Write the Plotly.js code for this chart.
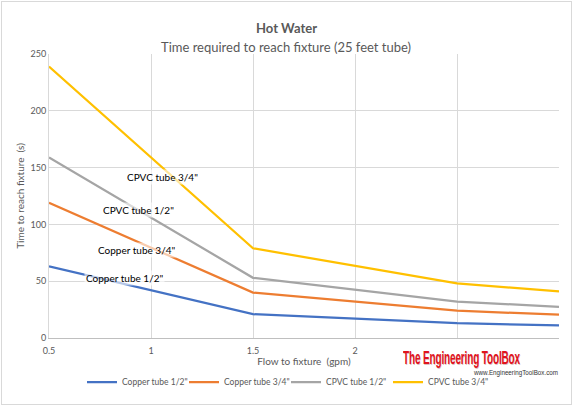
<!DOCTYPE html>
<html>
<head>
<meta charset="utf-8">
<script src="https://cdn.plot.ly/plotly-3.0.1.min.js"></script>
<style>
  html, body { margin: 0; padding: 0; background: #fff; }
  #wrap { position: relative; width: 573px; height: 406px; overflow: hidden; }
  #chart { width: 573px; height: 406px; }
  #frame { position: absolute; left: 1px; top: 1px; width: 569px; height: 402px;
           border: 1px solid #d9d9d9; pointer-events: none; }
  #logo { position: absolute; left: 394px; top: 342px; width: 172px; height: 34px; background: #fff; }
  #logo .brand, #logo .url { position: absolute; white-space: nowrap; transform-origin: 0 0; }
  #logo .brand { font-family: "Liberation Sans", "DejaVu Sans", sans-serif; font-weight: bold;
                 font-size: 19px; line-height: 19px; color: #e0141e; letter-spacing: -0.3px;
                 text-shadow: 1px 1px 0 rgba(120,0,0,0.25); }
  #logo .url { font-family: "Liberation Sans", sans-serif; font-size: 7px; line-height: 7px; color: #333; }
</style>
</head>
<body>
<div id="wrap">
  <div id="chart"></div>
  <div id="logo"><span class="brand">The Engineering ToolBox</span><span class="url">www.EngineeringToolBox.com</span></div>
  <div id="frame"></div>
</div>
<script>
// Flow to fixture (gpm)
const flow = [0.5, 1.5, 2.5, 3];

// Time to reach fixture (s), 25 ft of tube
const copperHalf = [63, 21, 13, 11];
const copperThreeQuarter = [119, 40, 24, 20.5];
const cpvcHalf = [159, 53, 32, 27.5];
const cpvcThreeQuarter = [239, 79, 48, 41];

const seriesNames = ['Copper tube 1/2"', 'Copper tube 3/4"', 'CPVC tube 1/2"', 'CPVC tube 3/4"'];
const seriesValues = [copperHalf, copperThreeQuarter, cpvcHalf, cpvcThreeQuarter];
const seriesColors = ['#4472C4', '#ED7D31', '#A5A5A5', '#FFC000'];

// Grid positions; the last two labels sit under the site logo and are left blank
const xTicks = [0.5, 1, 1.5, 2, 2.5, 3];
const xTickText = ['0.5', '1', '1.5', '2', '', ''];
const yTicks = [0, 50, 100, 150, 200, 250];

// In-chart label placement for each series
const labelX = [0.868, 0.929, 0.939, 1.054];
const labelY = [52.8, 77.5, 112.7, 142];

const FONT = 'Lato, "Open Sans", sans-serif';
const GREY = '#595959';
const H = 406;
const PLOT_H = 406 - 54 - 68;

const traces = seriesNames.map((name, i) => ({
  type: 'scatter',
  mode: 'lines',
  name: name,
  x: flow,
  y: seriesValues[i],
  line: { color: seriesColors[i], width: 2.25 },
  hoverinfo: 'x+y+name'
}));

const annotations = seriesNames.map((name, i) => ({
  x: labelX[i], y: labelY[i], xref: 'x', yref: 'y',
  text: name, showarrow: false,
  font: { family: FONT, size: 10, color: '#000' },
  bgcolor: 'rgba(255,255,255,0.6)', borderpad: 1
}));

// Chart titles (placed above the plot area)
annotations.push({
  xref: 'paper', yref: 'paper', x: (286 - 49) / 510, y: 1 + (54 - 18) / PLOT_H,
  text: '<b>Hot Water</b>', showarrow: false,
  font: { family: FONT, size: 13, color: GREY }
});
annotations.push({
  xref: 'paper', yref: 'paper', x: (286 - 49) / 510, y: 1 + (54 - 37) / PLOT_H,
  text: 'Time required to reach fixture (25 feet tube)', showarrow: false,
  font: { family: FONT, size: 13, color: GREY }
});

const layout = {
  width: 573, height: 406,
  margin: { l: 49, r: 14, t: 54, b: 68 },
  paper_bgcolor: '#ffffff', plot_bgcolor: '#ffffff',
  font: { family: FONT, color: GREY },
  showlegend: true,
  legend: {
    orientation: 'h', xref: 'container', x: 82 / 573, xanchor: 'left',
    yref: 'container', y: 1 - 382 / H, yanchor: 'middle',
    font: { family: FONT, size: 8.5, color: GREY },
    itemwidth: 30, entrywidth: 57, traceorder: 'normal'
  },
  xaxis: {
    range: [0.5, 3], tickvals: xTicks, ticktext: xTickText,
    automargin: false,
    showgrid: true, gridcolor: '#d9d9d9', gridwidth: 1,
    showline: true, linecolor: '#bfbfbf', linewidth: 1, mirror: false,
    zeroline: false, ticks: '', ticklabelstandoff: 4,
    tickfont: { family: FONT, size: 9, color: GREY },
    title: { text: 'Flow to fixture  (gpm)', font: { family: FONT, size: 10, color: GREY }, standoff: 14 }
  },
  yaxis: {
    range: [0, 250], tickvals: yTicks, automargin: false,
    showgrid: true, gridcolor: '#d9d9d9', gridwidth: 1,
    showline: true, linecolor: '#d9d9d9', zeroline: false, ticks: '',
    tickfont: { family: FONT, size: 9, color: GREY },
    title: { text: 'Time to reach fixture  (s)', font: { family: FONT, size: 10, color: GREY }, standoff: 4 }
  },
  annotations: annotations
};

Plotly.newPlot('chart', traces, layout, { displayModeBar: false, staticPlot: true });

// Fit the site logo lines into their boxes
function fitText(el, left, top, width) {
  const w = el.getBoundingClientRect().width;
  el.style.left = left + 'px';
  el.style.top = top + 'px';
  el.style.transform = 'scale(' + (width / w) + ',1)';
}
fitText(document.querySelector('#logo .brand'), 9, 6, 117);
fitText(document.querySelector('#logo .url'), 80, 27, 84);
</script>
</body>
</html>
